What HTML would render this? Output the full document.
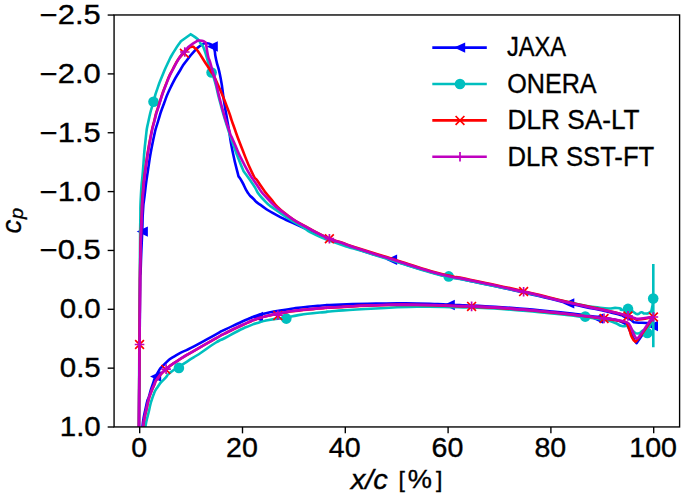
<!DOCTYPE html>
<html><head><meta charset="utf-8"><title>cp</title>
<style>
html,body{margin:0;padding:0;background:#ffffff;}
body{width:685px;height:498px;overflow:hidden;font-family:"Liberation Sans",sans-serif;}
</style></head><body>
<svg width="685" height="498" viewBox="0 0 685 498" style="display:block">
<rect x="0" y="0" width="685" height="498" fill="#ffffff"/>
<defs><clipPath id="ax"><rect x="114.07" y="14.97" width="565.53" height="411.98"/></clipPath></defs>
<g clip-path="url(#ax)" fill="none" stroke-linejoin="round" stroke-linecap="butt">
<path d="M139.00,432.00 C139.07,421.33 138.87,444.00 139.20,400.00 C139.53,356.00 139.47,344.67 140.00,300.00 C140.53,255.33 140.07,288.67 140.80,266.00 C141.53,243.33 141.47,250.33 142.20,232.00 C142.93,213.67 142.20,223.13 143.00,211.00 C143.80,198.87 142.93,209.27 144.60,195.60 C146.27,181.93 145.17,188.37 148.00,170.00 C150.83,151.63 149.67,157.00 153.10,140.50 C156.53,124.00 154.70,132.73 158.30,120.50 C161.90,108.27 159.63,115.17 163.90,103.80 C168.17,92.43 165.63,97.67 171.10,86.40 C176.57,75.13 175.50,78.10 180.30,70.00 C185.10,61.90 181.03,68.13 185.50,62.10 C189.97,56.07 188.60,57.43 193.70,51.90 C198.80,46.37 196.37,48.37 200.80,45.50 C205.23,42.63 203.07,43.30 207.00,43.30 C210.93,43.30 210.73,44.77 212.60,45.50 C213.23,47.00 213.30,45.17 214.50,50.00 C215.70,54.83 214.17,50.67 216.20,60.00 C218.23,69.33 218.00,64.33 220.60,78.00 C223.20,91.67 221.87,87.43 224.00,101.00 C226.13,114.57 225.37,109.23 227.00,118.70 C228.63,128.17 227.03,118.50 228.90,129.40 C230.77,140.30 229.40,135.77 232.60,151.40 C235.80,167.03 236.53,168.00 238.50,176.30 C239.73,178.20 239.20,176.70 242.20,182.00 C245.20,187.30 243.87,186.70 247.50,192.20 C251.13,197.70 248.77,194.27 253.10,198.50 C257.43,202.73 252.63,199.33 260.50,204.90 C268.37,210.47 263.97,208.33 276.70,215.20 C289.43,222.07 284.27,218.90 298.70,225.50 C313.13,232.10 306.23,229.20 320.00,235.00 C333.77,240.80 326.43,237.83 340.00,242.90 C353.57,247.97 342.90,244.37 360.70,250.20 C378.50,256.03 372.93,253.93 393.40,260.40 C413.87,266.87 403.67,264.13 422.10,269.60 C440.53,275.07 432.73,273.03 448.70,276.80 C464.67,280.57 445.03,275.70 470.00,280.90 C494.97,286.10 490.17,284.80 523.60,292.40 C557.03,300.00 541.50,297.07 570.30,303.70 C599.10,310.33 591.43,307.70 610.00,312.30 C628.57,316.90 618.00,314.17 626.00,317.50 C634.00,320.83 631.33,320.70 634.00,322.30 C636.67,322.47 636.67,322.73 642.00,322.80 C647.33,322.87 646.20,323.77 650.00,322.50 C653.80,321.23 652.27,320.17 653.40,319.00" stroke="#0000ff" stroke-width="2.60"/>
<path d="M142.20,432.00 C142.33,429.87 142.07,430.60 142.60,425.60 C143.13,420.60 142.80,422.67 143.80,417.00 C144.80,411.33 144.43,413.93 145.60,408.60 C146.77,403.27 146.27,404.77 147.30,401.00 C148.33,397.23 146.97,402.63 148.70,397.30 C150.43,391.97 149.63,392.93 152.50,385.00 C155.37,377.07 153.23,380.50 157.30,373.50 C161.37,366.50 158.33,370.10 164.70,364.00 C171.07,357.90 166.63,361.07 176.40,355.20 C186.17,349.33 180.80,353.37 194.00,346.40 C207.20,339.43 205.67,339.90 216.00,334.30 C226.33,328.70 217.67,333.20 225.00,329.60 C232.33,326.00 229.67,327.30 238.00,323.50 C246.33,319.70 243.87,320.77 250.00,318.20 C256.13,315.63 250.07,317.73 256.40,315.80 C262.73,313.87 259.90,314.33 269.00,312.40 C278.10,310.47 273.93,311.53 283.70,310.00 C293.47,308.47 288.53,309.03 298.30,307.80 C308.07,306.57 304.10,307.13 313.00,306.30 C321.90,305.47 317.67,305.80 325.00,305.30 C332.33,304.80 318.03,305.37 335.00,304.80 C351.97,304.23 348.60,304.00 375.90,303.60 C403.20,303.20 392.33,303.23 416.90,303.60 C441.47,303.97 431.37,304.03 449.60,304.70 C467.83,305.37 451.17,304.57 471.60,305.60 C492.03,306.63 484.13,305.83 510.90,307.80 C537.67,309.77 527.20,309.03 551.90,311.50 C576.60,313.97 567.63,313.07 585.00,315.20 C602.37,317.33 595.67,316.70 604.00,317.90 C612.33,319.10 604.00,317.43 610.00,318.80 C616.00,320.17 616.00,319.43 622.00,322.00 C628.00,324.57 626.00,325.00 628.00,326.50 C629.50,329.83 629.67,330.93 632.50,336.50 C635.33,342.07 635.17,340.97 636.50,343.20 C638.17,340.80 637.83,341.40 641.50,336.00 C645.17,330.60 643.53,332.67 647.50,327.00 C651.47,321.33 651.43,321.67 653.40,319.00" stroke="#0000ff" stroke-width="2.60"/>
<path d="M136.70,231.60 L147.90,226.40 L147.90,236.80 Z" fill="#0000ff" stroke="none"/>
<path d="M206.60,46.50 L217.80,41.30 L217.80,51.70 Z" fill="#0000ff" stroke="none"/>
<path d="M385.90,259.80 L397.10,254.60 L397.10,265.00 Z" fill="#0000ff" stroke="none"/>
<path d="M563.10,303.40 L574.30,298.20 L574.30,308.60 Z" fill="#0000ff" stroke="none"/>
<path d="M646.80,326.00 L658.00,320.80 L658.00,331.20 Z" fill="#0000ff" stroke="none"/>
<path d="M150.00,376.50 L161.20,371.30 L161.20,381.70 Z" fill="#0000ff" stroke="none"/>
<path d="M251.80,317.00 L263.00,311.80 L263.00,322.20 Z" fill="#0000ff" stroke="none"/>
<path d="M443.60,305.00 L454.80,299.80 L454.80,310.20 Z" fill="#0000ff" stroke="none"/>
<path d="M592.00,318.60 L603.20,313.40 L603.20,323.80 Z" fill="#0000ff" stroke="none"/>
<path d="M138.80,432.00 C138.87,421.33 138.73,444.00 139.00,400.00 C139.27,356.00 139.27,350.00 139.60,300.00 C139.93,250.00 139.77,276.33 140.00,250.00 C140.23,223.67 140.00,239.13 140.30,221.00 C140.60,202.87 140.03,212.27 140.90,195.60 C141.77,178.93 141.37,189.37 142.90,171.00 C144.43,152.63 143.57,157.50 145.50,140.50 C147.43,123.50 146.00,133.00 148.70,120.00 C151.40,107.00 150.83,111.57 153.60,101.50 C156.37,91.43 154.13,98.27 157.00,89.80 C159.87,81.33 158.50,85.20 162.20,76.10 C165.90,67.00 164.13,70.73 168.10,62.50 C172.07,54.27 169.83,58.50 174.10,51.40 C178.37,44.30 178.63,44.60 180.90,41.20 C184.17,38.87 187.43,36.53 190.70,34.20 C193.07,35.90 194.43,36.07 197.80,39.30 C201.17,42.53 198.77,40.83 200.80,43.90 C202.83,46.97 201.17,41.47 203.90,48.50 C206.63,55.53 206.43,57.00 209.00,65.00 C211.57,73.00 209.60,66.83 211.60,72.50 C213.60,78.17 212.20,72.17 215.00,82.00 C217.80,91.83 216.10,87.67 220.00,102.00 C223.90,116.33 222.50,111.47 226.70,125.00 C230.90,138.53 228.67,131.37 232.60,142.60 C236.53,153.83 234.83,149.17 238.50,158.70 C242.17,168.23 241.90,167.03 243.60,171.20 C246.77,175.63 246.80,175.40 253.10,184.50 C259.40,193.60 254.17,189.50 262.50,198.50 C270.83,207.50 265.60,202.50 278.10,211.50 C290.60,220.50 287.30,217.67 300.00,225.50 C312.70,233.33 302.87,228.73 316.20,235.00 C329.53,241.27 325.17,239.10 340.00,244.30 C354.83,249.50 342.90,245.10 360.70,250.60 C378.50,256.10 372.93,254.33 393.40,260.80 C413.87,267.27 403.67,264.60 422.10,270.00 C440.53,275.40 432.73,273.33 448.70,277.00 C464.67,280.67 445.03,275.93 470.00,281.00 C494.97,286.07 490.17,285.03 523.60,292.20 C557.03,299.37 544.83,297.30 570.30,302.50 C595.77,307.70 584.37,305.97 600.00,307.80 C615.63,309.63 609.87,307.27 617.20,308.00 C624.53,308.73 618.40,309.77 622.00,310.00 C625.60,310.23 624.00,307.93 628.00,308.70 C632.00,309.47 630.77,310.50 634.00,312.30 C637.23,314.10 635.27,314.10 637.70,314.10 C640.13,314.10 638.87,312.50 641.30,312.30 C643.73,312.10 642.17,313.50 645.00,313.50 C647.83,313.50 647.47,314.13 649.80,312.30 C652.13,310.47 650.87,312.77 652.00,308.00 C653.13,303.23 652.80,301.33 653.20,298.00" stroke="#00bfbf" stroke-width="2.60"/>
<path d="M145.20,432.00 C145.33,429.87 144.53,431.83 145.60,425.60 C146.67,419.37 146.07,422.73 148.40,413.30 C150.73,403.87 149.30,406.40 152.60,397.30 C155.90,388.20 154.27,392.20 158.30,386.00 C162.33,379.80 160.13,383.60 164.70,378.70 C169.27,373.80 164.67,376.93 172.00,371.30 C179.33,365.67 176.93,368.07 186.70,361.80 C196.47,355.53 191.53,358.93 201.30,352.50 C211.07,346.07 208.10,347.33 216.00,342.50 C223.90,337.67 217.67,341.83 225.00,338.00 C232.33,334.17 229.67,335.13 238.00,331.00 C246.33,326.87 243.87,328.17 250.00,325.60 C256.13,323.03 250.07,325.17 256.40,323.30 C262.73,321.43 259.10,321.90 269.00,320.00 C278.90,318.10 276.33,319.23 286.10,317.60 C295.87,315.97 289.33,316.57 298.30,315.10 C307.27,313.63 304.10,314.20 313.00,313.20 C321.90,312.20 317.67,312.83 325.00,312.10 C332.33,311.37 318.03,312.20 335.00,311.00 C351.97,309.80 348.60,309.90 375.90,308.50 C403.20,307.10 389.60,307.20 416.90,306.80 C444.20,306.40 439.57,307.07 457.80,307.30 C476.03,307.53 453.90,306.70 471.60,307.50 C489.30,308.30 484.13,307.70 510.90,309.70 C537.67,311.70 527.20,310.97 551.90,313.50 C576.60,316.03 567.63,315.13 585.00,317.30 C602.37,319.47 594.33,318.27 604.00,320.00 C613.67,321.73 608.00,320.50 614.00,322.50 C620.00,324.50 617.33,324.77 622.00,326.00 C626.67,327.23 624.33,324.53 628.00,326.20 C631.67,327.87 629.67,328.57 633.00,331.00 C636.33,333.43 634.67,333.67 638.00,333.50 C641.33,333.33 639.83,332.17 643.00,330.50 C646.17,328.83 644.83,331.00 647.50,328.50 C650.17,326.00 649.10,328.50 651.00,323.00 C652.90,317.50 652.47,315.67 653.20,312.00" stroke="#00bfbf" stroke-width="2.60"/>
<path d="M653.3,264 L653.3,347.3" stroke="#00bfbf" stroke-width="2.60"/>
<circle cx="153.50" cy="101.70" r="5.30" fill="#00bfbf" stroke="none"/>
<circle cx="211.60" cy="72.50" r="5.30" fill="#00bfbf" stroke="none"/>
<circle cx="448.70" cy="276.40" r="5.30" fill="#00bfbf" stroke="none"/>
<circle cx="628.00" cy="308.90" r="5.30" fill="#00bfbf" stroke="none"/>
<circle cx="653.20" cy="298.60" r="5.30" fill="#00bfbf" stroke="none"/>
<circle cx="178.90" cy="367.90" r="5.30" fill="#00bfbf" stroke="none"/>
<circle cx="286.30" cy="318.60" r="5.30" fill="#00bfbf" stroke="none"/>
<circle cx="585.20" cy="316.60" r="5.30" fill="#00bfbf" stroke="none"/>
<circle cx="647.30" cy="333.00" r="5.30" fill="#00bfbf" stroke="none"/>
<path d="M138.90,432.00 C138.97,421.33 138.90,429.33 139.10,400.00 C139.30,370.67 139.25,377.33 139.50,344.00 C139.75,310.67 139.63,326.00 139.85,300.00 C140.07,274.00 139.82,287.67 140.15,266.00 C140.48,244.33 140.33,252.00 140.85,235.00 C141.37,218.00 141.10,228.13 141.70,215.00 C142.30,201.87 141.47,210.60 142.65,195.60 C143.83,180.60 142.85,188.37 145.25,170.00 C147.65,151.63 146.78,157.17 149.85,140.50 C152.92,123.83 151.55,131.57 154.45,120.00 C157.35,108.43 154.82,117.47 158.55,105.80 C162.28,94.13 160.78,97.43 165.65,85.00 C170.52,72.57 168.32,78.00 173.15,68.50 C177.98,59.00 176.30,62.13 180.15,56.50 C184.00,50.87 181.92,54.33 184.70,51.60 C187.48,48.87 185.97,49.97 188.50,48.30 C191.03,46.63 190.13,46.60 192.30,46.60 C194.47,46.60 193.17,46.80 195.00,48.30 C196.83,49.80 194.47,46.47 197.80,51.10 C201.13,55.73 200.93,55.90 205.00,62.20 C209.07,68.50 206.10,63.40 210.00,70.00 C213.90,76.60 211.03,69.70 216.70,82.00 C222.37,94.30 221.47,92.57 227.00,106.90 C232.53,121.23 228.50,111.63 233.30,125.00 C238.10,138.37 235.27,131.37 241.40,147.00 C247.53,162.63 246.30,160.57 251.70,171.90 C257.10,183.23 253.70,175.13 257.60,181.00 C261.50,186.87 259.33,184.00 263.40,189.50 C267.47,195.00 262.93,189.80 269.80,197.50 C276.67,205.20 271.93,202.87 284.00,212.60 C296.07,222.33 290.87,218.07 306.00,226.70 C321.13,235.33 318.07,233.40 329.40,238.50 C340.73,243.60 329.57,238.47 340.00,242.00 C350.43,245.53 342.90,243.37 360.70,249.10 C378.50,254.83 372.93,252.77 393.40,259.20 C413.87,265.63 403.67,262.93 422.10,268.40 C440.53,273.87 432.73,271.83 448.70,275.60 C464.67,279.37 445.03,274.50 470.00,279.70 C494.97,284.90 490.17,283.60 523.60,291.20 C557.03,298.80 541.50,295.83 570.30,302.50 C599.10,309.17 590.77,306.57 610.00,311.20 C629.23,315.83 619.17,313.57 628.00,316.40 C636.83,319.23 633.67,318.60 636.50,319.70 C639.33,319.33 639.37,319.43 645.00,318.60 C650.63,317.77 650.60,317.67 653.40,317.20" stroke="#ff0000" stroke-width="2.60"/>
<path d="M142.70,432.00 C142.90,429.87 142.63,430.60 143.30,425.60 C143.97,420.60 143.60,422.67 144.70,417.00 C145.80,411.33 145.40,413.93 146.60,408.60 C147.80,403.27 147.03,405.87 148.30,401.00 C149.57,396.13 148.43,399.33 150.40,394.00 C152.37,388.67 151.87,390.03 154.20,385.00 C156.53,379.97 153.43,384.17 157.40,378.90 C161.37,373.63 158.80,375.60 166.10,369.20 C173.40,362.80 170.00,365.80 179.30,359.70 C188.60,353.60 181.77,358.03 194.00,350.90 C206.23,343.77 205.67,344.13 216.00,338.30 C226.33,332.47 217.67,337.13 225.00,333.40 C232.33,329.67 229.67,331.00 238.00,327.10 C246.33,323.20 243.87,324.33 250.00,321.70 C256.13,319.07 250.07,321.23 256.40,319.20 C262.73,317.17 259.90,317.77 269.00,315.60 C278.10,313.43 273.93,314.37 283.70,312.70 C293.47,311.03 288.53,311.80 298.30,310.60 C308.07,309.40 304.10,309.97 313.00,309.10 C321.90,308.23 317.67,308.57 325.00,308.00 C332.33,307.43 318.03,308.27 335.00,307.40 C351.97,306.53 348.60,306.20 375.90,305.40 C403.20,304.60 389.60,304.73 416.90,305.00 C444.20,305.27 439.57,305.67 457.80,306.20 C476.03,306.73 453.90,305.73 471.60,306.60 C489.30,307.47 484.13,306.83 510.90,308.80 C537.67,310.77 527.20,310.03 551.90,312.50 C576.60,314.97 567.63,314.10 585.00,316.20 C602.37,318.30 595.67,317.73 604.00,318.80 C612.33,319.87 604.00,318.60 610.00,319.40 C616.00,320.20 616.50,320.27 622.00,321.20 C627.50,322.13 625.00,321.87 626.50,322.20 C627.43,324.60 627.47,324.33 629.30,329.40 C631.13,334.47 629.97,333.27 632.00,337.40 C634.03,341.53 634.27,340.33 635.40,341.80 C637.07,339.87 636.20,341.60 640.40,336.00 C644.60,330.40 643.67,331.27 648.00,325.00 C652.33,318.73 651.60,319.80 653.40,317.20" stroke="#ff0000" stroke-width="2.60"/>
<path d="M135.15,340.10 L143.95,348.90 M135.15,348.90 L143.95,340.10" stroke="#ff0000" stroke-width="1.7" fill="none"/>
<path d="M180.00,48.80 L188.80,57.60 M180.00,57.60 L188.80,48.80" stroke="#ff0000" stroke-width="1.7" fill="none"/>
<path d="M325.00,234.30 L333.80,243.10 M325.00,243.10 L333.80,234.30" stroke="#ff0000" stroke-width="1.7" fill="none"/>
<path d="M519.20,287.20 L528.00,296.00 M519.20,296.00 L528.00,287.20" stroke="#ff0000" stroke-width="1.7" fill="none"/>
<path d="M623.60,311.60 L632.40,320.40 M623.60,320.40 L632.40,311.60" stroke="#ff0000" stroke-width="1.7" fill="none"/>
<path d="M649.00,312.60 L657.80,321.40 M649.00,321.40 L657.80,312.60" stroke="#ff0000" stroke-width="1.7" fill="none"/>
<path d="M161.40,365.00 L170.20,373.80 M161.40,373.80 L170.20,365.00" stroke="#ff0000" stroke-width="1.7" fill="none"/>
<path d="M273.40,311.20 L282.20,320.00 M273.40,320.00 L282.20,311.20" stroke="#ff0000" stroke-width="1.7" fill="none"/>
<path d="M467.20,302.00 L476.00,310.80 M467.20,310.80 L476.00,302.00" stroke="#ff0000" stroke-width="1.7" fill="none"/>
<path d="M599.60,314.20 L608.40,323.00 M599.60,323.00 L608.40,314.20" stroke="#ff0000" stroke-width="1.7" fill="none"/>
<path d="M138.90,432.00 C138.97,421.33 138.88,429.33 139.10,400.00 C139.32,370.67 139.28,377.33 139.55,344.00 C139.82,310.67 139.67,326.00 139.90,300.00 C140.13,274.00 139.88,287.67 140.25,266.00 C140.62,244.33 140.45,252.00 141.00,235.00 C141.55,218.00 141.27,228.13 141.90,215.00 C142.53,201.87 141.70,210.60 142.90,195.60 C144.10,180.60 143.10,188.37 145.50,170.00 C147.90,151.63 147.03,157.17 150.10,140.50 C153.17,123.83 151.80,131.57 154.70,120.00 C157.60,108.43 155.07,117.47 158.80,105.80 C162.53,94.13 161.03,97.43 165.90,85.00 C170.77,72.57 168.57,78.00 173.40,68.50 C178.23,59.00 176.37,62.60 180.40,56.50 C184.43,50.40 182.10,53.93 185.50,50.20 C188.90,46.47 186.50,48.50 190.60,45.30 C194.70,42.10 195.40,42.17 197.80,40.60 C199.20,40.67 199.30,40.13 202.00,40.80 C204.70,41.47 204.60,42.00 205.90,42.60 C206.60,46.97 206.60,49.23 208.00,55.70 C209.40,62.17 208.40,56.20 210.10,62.00 C211.80,67.80 211.37,67.10 213.10,73.10 C214.83,79.10 212.63,69.70 215.30,80.00 C217.97,90.30 216.77,88.00 221.10,104.00 C225.43,120.00 223.97,115.13 228.30,128.00 C232.63,140.87 228.77,130.40 234.10,142.60 C239.43,154.80 236.97,150.90 244.30,164.60 C251.63,178.30 248.37,172.40 256.10,183.70 C263.83,195.00 258.20,188.73 267.50,198.50 C276.80,208.27 271.17,203.53 284.00,213.00 C296.83,222.47 290.87,218.33 306.00,226.90 C321.13,235.47 318.07,233.57 329.40,238.70 C340.73,243.83 329.57,238.67 340.00,242.30 C350.43,245.93 342.90,243.77 360.70,249.60 C378.50,255.43 372.93,253.33 393.40,259.80 C413.87,266.27 403.67,263.53 422.10,269.00 C440.53,274.47 432.73,272.43 448.70,276.20 C464.67,279.97 445.03,275.10 470.00,280.30 C494.97,285.50 490.17,284.20 523.60,291.80 C557.03,299.40 541.50,296.53 570.30,303.10 C599.10,309.67 590.77,307.23 610.00,311.50 C629.23,315.77 619.17,313.43 628.00,315.90 C636.83,318.37 633.67,317.90 636.50,318.90 C639.33,318.60 639.37,318.63 645.00,318.00 C650.63,317.37 650.60,317.33 653.40,317.00" stroke="#bf00bf" stroke-width="2.60"/>
<path d="M142.60,432.00 C142.80,429.87 142.53,430.60 143.20,425.60 C143.87,420.60 143.50,422.67 144.60,417.00 C145.70,411.33 145.30,413.93 146.50,408.60 C147.70,403.27 146.93,405.87 148.20,401.00 C149.47,396.13 148.33,399.33 150.30,394.00 C152.27,388.67 151.77,390.03 154.10,385.00 C156.43,379.97 153.30,384.20 157.30,378.90 C161.30,373.60 158.77,375.53 166.10,369.10 C173.43,362.67 170.00,365.70 179.30,359.60 C188.60,353.50 181.77,357.93 194.00,350.80 C206.23,343.67 205.67,344.03 216.00,338.20 C226.33,332.37 217.67,337.03 225.00,333.30 C232.33,329.57 229.67,330.93 238.00,327.00 C246.33,323.07 243.87,324.17 250.00,321.50 C256.13,318.83 250.07,321.03 256.40,319.00 C262.73,316.97 259.90,317.57 269.00,315.40 C278.10,313.23 273.93,314.17 283.70,312.50 C293.47,310.83 288.53,311.60 298.30,310.40 C308.07,309.20 304.10,309.77 313.00,308.90 C321.90,308.03 317.67,308.37 325.00,307.80 C332.33,307.23 318.03,308.07 335.00,307.20 C351.97,306.33 348.60,306.00 375.90,305.20 C403.20,304.40 389.60,304.53 416.90,304.80 C444.20,305.07 439.57,305.47 457.80,306.00 C476.03,306.53 453.90,305.53 471.60,306.40 C489.30,307.27 484.13,306.63 510.90,308.60 C537.67,310.57 527.20,309.83 551.90,312.30 C576.60,314.77 567.63,313.97 585.00,316.00 C602.37,318.03 595.67,317.43 604.00,318.40 C612.33,319.37 604.00,318.03 610.00,318.90 C616.00,319.77 616.00,319.63 622.00,321.00 C628.00,322.37 626.00,322.33 628.00,323.00 C628.77,324.00 628.17,321.87 630.30,326.00 C632.43,330.13 632.17,331.20 634.40,335.40 C636.63,339.60 636.13,337.53 637.00,338.60 C638.13,337.40 636.60,340.10 640.40,335.00 C644.20,329.90 644.07,329.30 648.40,323.30 C652.73,317.30 651.73,319.10 653.40,317.00" stroke="#bf00bf" stroke-width="2.60"/>
<path d="M134.75,344.50 L144.35,344.50 M139.55,339.70 L139.55,349.30" stroke="#bf00bf" stroke-width="1.7" fill="none"/>
<path d="M180.00,52.00 L189.60,52.00 M184.80,47.20 L184.80,56.80" stroke="#bf00bf" stroke-width="1.7" fill="none"/>
<path d="M324.60,238.70 L334.20,238.70 M329.40,233.90 L329.40,243.50" stroke="#bf00bf" stroke-width="1.7" fill="none"/>
<path d="M518.80,291.80 L528.40,291.80 M523.60,287.00 L523.60,296.60" stroke="#bf00bf" stroke-width="1.7" fill="none"/>
<path d="M623.20,315.90 L632.80,315.90 M628.00,311.10 L628.00,320.70" stroke="#bf00bf" stroke-width="1.7" fill="none"/>
<path d="M648.60,317.00 L658.20,317.00 M653.40,312.20 L653.40,321.80" stroke="#bf00bf" stroke-width="1.7" fill="none"/>
<path d="M161.30,369.10 L170.90,369.10 M166.10,364.30 L166.10,373.90" stroke="#bf00bf" stroke-width="1.7" fill="none"/>
<path d="M273.10,315.20 L282.70,315.20 M277.90,310.40 L277.90,320.00" stroke="#bf00bf" stroke-width="1.7" fill="none"/>
<path d="M466.80,306.40 L476.40,306.40 M471.60,301.60 L471.60,311.20" stroke="#bf00bf" stroke-width="1.7" fill="none"/>
<path d="M599.20,318.40 L608.80,318.40 M604.00,313.60 L604.00,323.20" stroke="#bf00bf" stroke-width="1.7" fill="none"/>
</g>
<rect x="114.07" y="14.97" width="565.53" height="411.98" fill="none" stroke="#000000" stroke-width="1.37"/>
<path d="M139.70,426.95 L139.70,433.35" stroke="#000000" stroke-width="1.37"/>
<path d="M242.50,426.95 L242.50,433.35" stroke="#000000" stroke-width="1.37"/>
<path d="M345.30,426.95 L345.30,433.35" stroke="#000000" stroke-width="1.37"/>
<path d="M448.10,426.95 L448.10,433.35" stroke="#000000" stroke-width="1.37"/>
<path d="M550.90,426.95 L550.90,433.35" stroke="#000000" stroke-width="1.37"/>
<path d="M653.70,426.95 L653.70,433.35" stroke="#000000" stroke-width="1.37"/>
<path d="M114.07,15.05 L107.67,15.05" stroke="#000000" stroke-width="1.37"/>
<path d="M114.07,73.90 L107.67,73.90" stroke="#000000" stroke-width="1.37"/>
<path d="M114.07,132.75 L107.67,132.75" stroke="#000000" stroke-width="1.37"/>
<path d="M114.07,191.60 L107.67,191.60" stroke="#000000" stroke-width="1.37"/>
<path d="M114.07,250.45 L107.67,250.45" stroke="#000000" stroke-width="1.37"/>
<path d="M114.07,309.30 L107.67,309.30" stroke="#000000" stroke-width="1.37"/>
<path d="M114.07,368.15 L107.67,368.15" stroke="#000000" stroke-width="1.37"/>
<path d="M114.07,427.00 L107.67,427.00" stroke="#000000" stroke-width="1.37"/>
<g font-family="'Liberation Sans', sans-serif" fill="#000000" stroke="#000000" stroke-width="0.35">
<text x="139.10" y="456.60" font-size="27.00" text-anchor="middle" textLength="15.90" lengthAdjust="spacingAndGlyphs" >0</text>
<text x="241.90" y="456.60" font-size="27.00" text-anchor="middle" textLength="31.80" lengthAdjust="spacingAndGlyphs" >20</text>
<text x="344.70" y="456.60" font-size="27.00" text-anchor="middle" textLength="31.80" lengthAdjust="spacingAndGlyphs" >40</text>
<text x="447.50" y="456.60" font-size="27.00" text-anchor="middle" textLength="31.80" lengthAdjust="spacingAndGlyphs" >60</text>
<text x="550.30" y="456.60" font-size="27.00" text-anchor="middle" textLength="31.80" lengthAdjust="spacingAndGlyphs" >80</text>
<text x="653.10" y="456.60" font-size="27.00" text-anchor="middle" textLength="47.70" lengthAdjust="spacingAndGlyphs" >100</text>
<text x="100.70" y="24.05" font-size="27.00" text-anchor="end" textLength="61.00" lengthAdjust="spacingAndGlyphs" >−2.5</text>
<text x="100.70" y="82.90" font-size="27.00" text-anchor="end" textLength="61.00" lengthAdjust="spacingAndGlyphs" >−2.0</text>
<text x="100.70" y="141.75" font-size="27.00" text-anchor="end" textLength="61.00" lengthAdjust="spacingAndGlyphs" >−1.5</text>
<text x="100.70" y="200.60" font-size="27.00" text-anchor="end" textLength="61.00" lengthAdjust="spacingAndGlyphs" >−1.0</text>
<text x="100.70" y="259.45" font-size="27.00" text-anchor="end" textLength="61.00" lengthAdjust="spacingAndGlyphs" >−0.5</text>
<text x="100.70" y="318.30" font-size="27.00" text-anchor="end" textLength="40.95" lengthAdjust="spacingAndGlyphs" >0.0</text>
<text x="100.70" y="377.15" font-size="27.00" text-anchor="end" textLength="40.95" lengthAdjust="spacingAndGlyphs" >0.5</text>
<text x="100.70" y="436.00" font-size="27.00" text-anchor="end" textLength="40.95" lengthAdjust="spacingAndGlyphs" >1.0</text>
<text x="350.71" y="488.50" font-size="27.00" text-anchor="start" textLength="37.18" lengthAdjust="spacingAndGlyphs" font-style="italic">x/c</text>
<text x="398.50" y="487.20" font-size="22.30" text-anchor="start" textLength="6.40" lengthAdjust="spacingAndGlyphs" >[</text>
<text x="407.70" y="488.40" font-size="25.65" text-anchor="start" textLength="24.20" lengthAdjust="spacingAndGlyphs" >%</text>
<text x="436.00" y="487.20" font-size="22.30" text-anchor="start" textLength="6.40" lengthAdjust="spacingAndGlyphs" >]</text>
<g transform="translate(20.9,221) rotate(-90)">
<text x="-12.43" y="0.00" font-size="27.00" text-anchor="start" textLength="13.75" lengthAdjust="spacingAndGlyphs" font-style="italic">c</text>
<text x="1.92" y="2.30" font-size="18.90" text-anchor="start" textLength="11.11" lengthAdjust="spacingAndGlyphs" font-style="italic">p</text>
</g>
<text x="506.90" y="56.40" font-size="27.00" text-anchor="start" textLength="59.20" lengthAdjust="spacingAndGlyphs" >JAXA</text>
<text x="507.20" y="92.80" font-size="27.00" text-anchor="start" textLength="89.45" lengthAdjust="spacingAndGlyphs" >ONERA</text>
<text x="507.60" y="129.20" font-size="27.00" text-anchor="start" textLength="131.90" lengthAdjust="spacingAndGlyphs" >DLR SA-LT</text>
<text x="507.60" y="165.60" font-size="27.00" text-anchor="start" textLength="146.60" lengthAdjust="spacingAndGlyphs" >DLR SST-FT</text>
</g>
<path d="M432.3,47.60 L486.8,47.60" stroke="#0000ff" stroke-width="2.60"/>
<path d="M432.3,84.00 L486.8,84.00" stroke="#00bfbf" stroke-width="2.60"/>
<path d="M432.3,120.40 L486.8,120.40" stroke="#ff0000" stroke-width="2.60"/>
<path d="M432.3,156.80 L486.8,156.80" stroke="#bf00bf" stroke-width="2.60"/>
<path d="M454.00,47.60 L465.20,42.40 L465.20,52.80 Z" fill="#0000ff" stroke="none"/>
<circle cx="460.00" cy="84.00" r="5.30" fill="#00bfbf" stroke="none"/>
<path d="M455.60,116.00 L464.40,124.80 M455.60,124.80 L464.40,116.00" stroke="#ff0000" stroke-width="1.7" fill="none"/>
<path d="M455.20,156.80 L464.80,156.80 M460.00,152.00 L460.00,161.60" stroke="#bf00bf" stroke-width="1.7" fill="none"/>
</svg>
</body></html>
